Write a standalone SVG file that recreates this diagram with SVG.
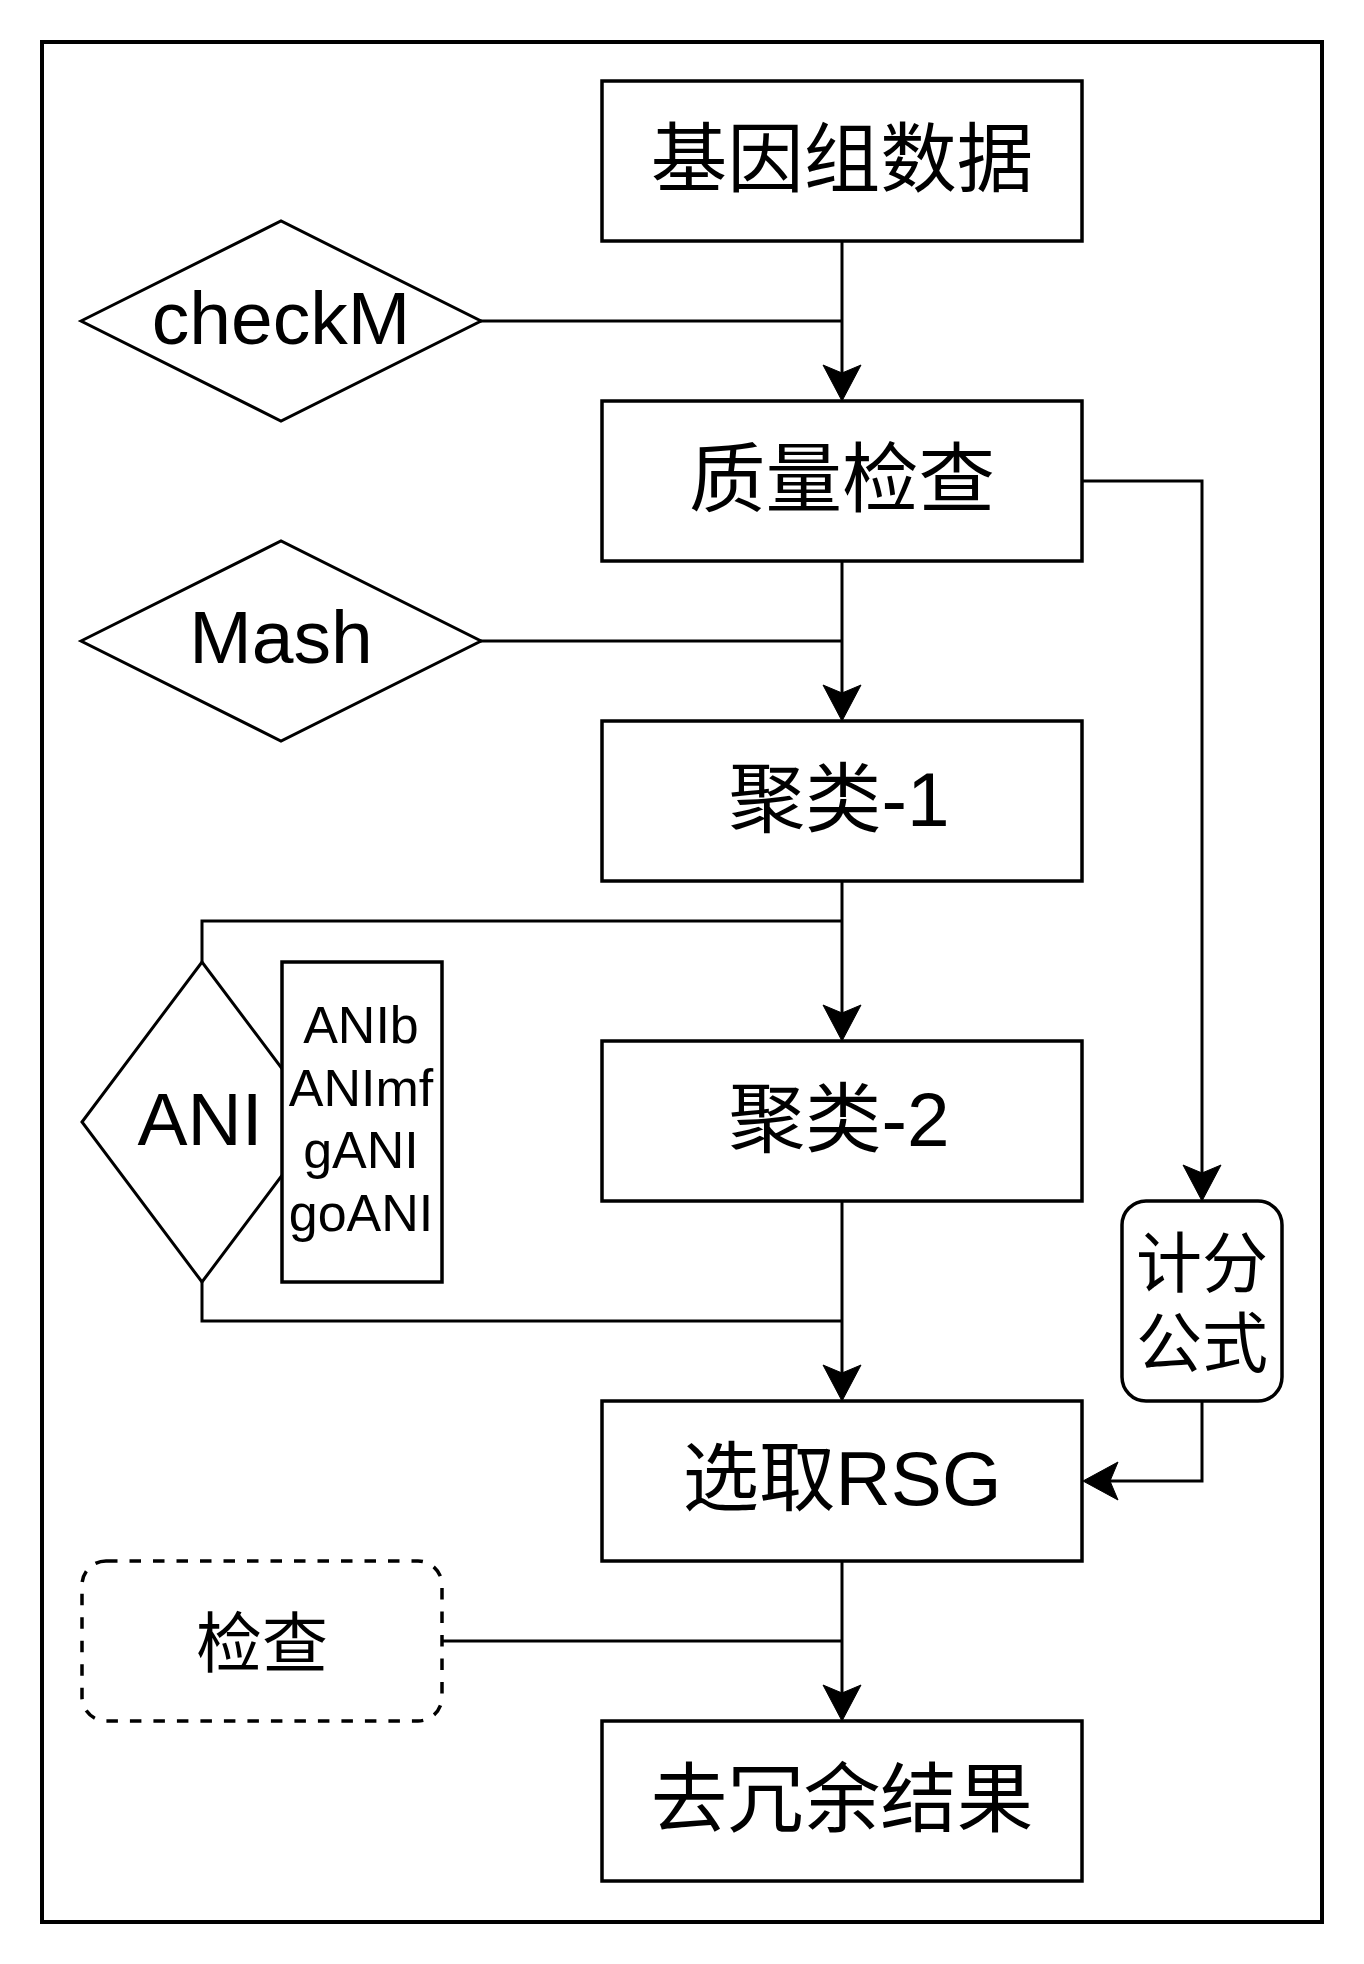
<svg xmlns="http://www.w3.org/2000/svg" width="1364" height="1964" viewBox="0 0 1364 1964">
<style>
.box{fill:#fff;stroke:#000;stroke-width:3.5}
.dia{fill:#fff;stroke:#000;stroke-width:3}
.dash{fill:#fff;stroke:#000;stroke-width:3.5;stroke-dasharray:11.5 12}
.ln{fill:none;stroke:#000;stroke-width:3}
.ah{fill:#000;stroke:#000;stroke-width:1}
text{font-family:"Liberation Sans","Noto Sans CJK SC",sans-serif;fill:#000;text-anchor:middle}
.t75{font-size:75px}
.t76{font-size:76.5px}
.t66{font-size:66px}
.t52{font-size:52px}
</style>
<rect x="0" y="0" width="1364" height="1964" fill="#fff"/>
<rect x="42" y="42" width="1280" height="1880" fill="none" stroke="#000" stroke-width="4"/>
<g id="connectors">
<path class="ln" d="M842 242 V373"/>
<polygon class="ah" points="842,401 823,365 842,373 861,365"/>
<path class="ln" d="M480 321 H842"/>
<path class="ln" d="M842 562 V693"/>
<polygon class="ah" points="842,721 823,685 842,693 861,685"/>
<path class="ln" d="M480 641 H842"/>
<path class="ln" d="M1082 481 H1202 V1173"/>
<polygon class="ah" points="1202,1201 1183,1165 1202,1173 1221,1165"/>
<path class="ln" d="M842 882 V1013"/>
<polygon class="ah" points="842,1041 823,1005 842,1013 861,1005"/>
<path class="ln" d="M842 921 H202 V962"/>
<path class="ln" d="M202 1282 V1321 H842"/>
<path class="ln" d="M842 1202 V1373"/>
<polygon class="ah" points="842,1401 823,1365 842,1373 861,1365"/>
<path class="ln" d="M842 1562 V1693"/>
<polygon class="ah" points="842,1721 823,1685 842,1693 861,1685"/>
<path class="ln" d="M442 1641 H842"/>
<path class="ln" d="M1202 1401 V1481 H1110"/>
<polygon class="ah" points="1083,1481 1118,1462 1110,1481 1118,1500"/>
</g>
<g id="n1"><rect class="box" x="602" y="81" width="480" height="160"/><text class="t76" x="842" y="186">基因组数据</text></g>
<g id="n2"><rect class="box" x="602" y="401" width="480" height="160"/><text class="t76" x="842" y="506">质量检查</text></g>
<g id="n3"><rect class="box" x="602" y="721" width="480" height="160"/><text class="t76" x="839" y="826">聚类-1</text></g>
<g id="n4"><rect class="box" x="602" y="1041" width="480" height="160"/><text class="t76" x="839" y="1146">聚类-2</text></g>
<g id="n5"><rect class="box" x="602" y="1401" width="480" height="160"/><text class="t76" x="842" y="1505">选取RSG</text></g>
<g id="n6"><rect class="box" x="602" y="1721" width="480" height="160"/><text class="t76" x="842" y="1826">去冗余结果</text></g>
<g id="checkm"><polygon class="dia" points="81,321 281,221 481,321 281,421"/><text class="t75" x="281" y="344">checkM</text></g>
<g id="mash"><polygon class="dia" points="81,641 281,541 481,641 281,741"/><text class="t75" x="281" y="663">Mash</text></g>
<g id="ani"><polygon class="dia" points="82,1122 202,962 322,1122 202,1282"/><text class="t75" x="200" y="1145">ANI</text></g>
<g id="anilist"><rect class="box" x="282" y="962" width="160" height="320"/>
<text class="t52" x="361" y="1043">ANIb</text>
<text class="t52" x="361" y="1106">ANImf</text>
<text class="t52" x="361" y="1168">gANI</text>
<text class="t52" x="361" y="1231">goANI</text></g>
<g id="score"><rect class="box" x="1122" y="1201" width="160" height="200" rx="24" ry="24"/>
<text class="t66" x="1202" y="1287">计分</text>
<text class="t66" x="1202" y="1367">公式</text></g>
<g id="check"><rect class="dash" x="82" y="1561" width="360" height="160" rx="24" ry="24"/><text class="t66" x="262" y="1667">检查</text></g>
</svg>
